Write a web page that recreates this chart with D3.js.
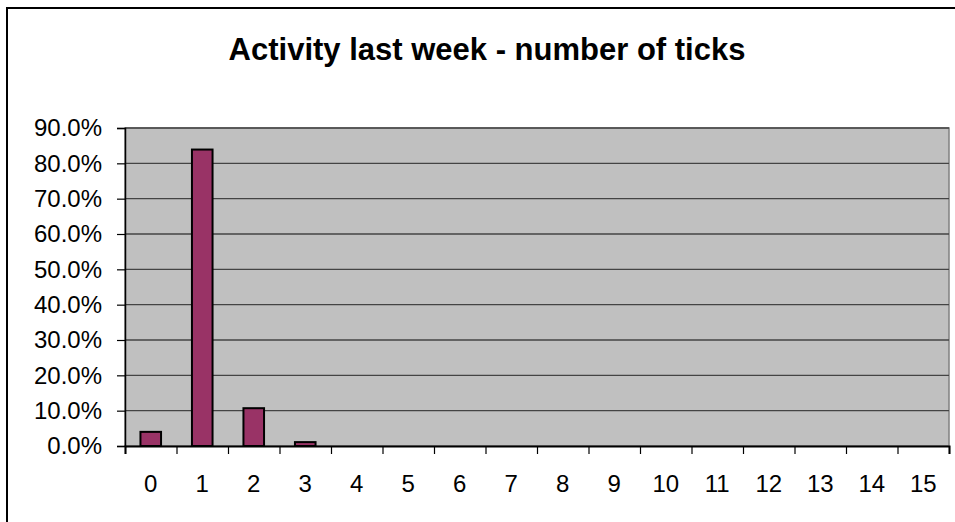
<!DOCTYPE html>
<html>
<head>
<meta charset="utf-8">
<script src="https://cdn.jsdelivr.net/npm/d3@7"></script>
<style>
  html, body { margin: 0; padding: 0; background: #fff; }
  svg { display: block; font-family: "Liberation Sans", Arial, sans-serif; }
</style>
</head>
<body>
<svg id="chart" width="955" height="522"></svg>
<script>
const categories = ["0","1","2","3","4","5","6","7","8","9","10","11","12","13","14","15"];
const values = [0.040, 0.839, 0.107, 0.011, 0, 0, 0, 0, 0, 0, 0, 0, 0, 0, 0, 0];
const yTicks = [0, 0.1, 0.2, 0.3, 0.4, 0.5, 0.6, 0.7, 0.8, 0.9];
const title = "Activity last week - number of ticks";

const svg = d3.select("#chart");
const plot = { left: 125, right: 949, top: 128, bottom: 446 };

// outer frame (extends past right/bottom edge)
svg.append("rect")
  .attr("x", 7).attr("y", 8).attr("width", 960).attr("height", 530)
  .attr("fill", "#fff").attr("stroke", "#000").attr("stroke-width", 2);

svg.append("text")
  .attr("x", 487).attr("y", 60)
  .attr("text-anchor", "middle")
  .attr("font-weight", "bold")
  .attr("font-size", 31)
  .text(title);

const x = d3.scaleBand().domain(categories)
  .range([plot.left, plot.right]).paddingInner(0.6).paddingOuter(0.3);
const xb = d3.scaleLinear().domain([0, categories.length]).range([plot.left, plot.right]);
const y = d3.scaleLinear().domain([0, 0.9]).range([plot.bottom, plot.top]);

// plot background
svg.append("rect")
  .attr("x", plot.left).attr("y", plot.top)
  .attr("width", plot.right - plot.left).attr("height", plot.bottom - plot.top)
  .attr("fill", "#c0c0c0").attr("stroke", "#808080").attr("stroke-width", 1.5);

// gridlines
svg.append("g").selectAll("line").data(yTicks.slice(1)).join("line")
  .attr("x1", plot.left).attr("x2", plot.right)
  .attr("y1", d => y(d)).attr("y2", d => y(d))
  .attr("stroke", "#444").attr("stroke-width", 1.3);

// bars
svg.append("g").selectAll("rect").data(values).join("rect")
  .attr("x", (d, i) => x(categories[i]))
  .attr("width", x.bandwidth())
  .attr("y", d => y(d))
  .attr("height", d => y(0) - y(d))
  .attr("fill", "#993366")
  .attr("stroke", d => d > 0 ? "#000" : "none")
  .attr("stroke-width", 2);

// y axis
const yAxis = svg.append("g").attr("transform", `translate(${plot.left},0)`)
  .call(d3.axisLeft(y).tickValues(yTicks).tickFormat(d3.format(".1%")).tickSize(8).tickPadding(15));
yAxis.attr("font-size", null).attr("font-family", null);
yAxis.select(".domain").attr("stroke", "#000").attr("stroke-width", 1.5);
yAxis.selectAll(".tick line").attr("stroke", "#000").attr("stroke-width", 1.2);
yAxis.selectAll("text").style("font-size", "24px").attr("fill", "#000")
  .style("font-family", "'Liberation Sans', Arial, sans-serif");

// x axis boundary ticks
const xTickAxis = svg.append("g").attr("transform", `translate(0,${plot.bottom})`)
  .call(d3.axisBottom(xb).tickValues(d3.range(categories.length + 1)).tickSize(8).tickFormat(""));
xTickAxis.select(".domain").attr("stroke", "#000").attr("stroke-width", 2);
xTickAxis.selectAll(".tick line").attr("stroke", "#000").attr("stroke-width", 1.2);

// x labels
const xAxis = svg.append("g").attr("transform", `translate(0,${plot.bottom})`)
  .call(d3.axisBottom(x).tickSize(0).tickPadding(29));
xAxis.attr("font-size", null).attr("font-family", null);
xAxis.select(".domain").remove();
xAxis.selectAll("text").style("font-size", "24px").attr("fill", "#000")
  .style("font-family", "'Liberation Sans', Arial, sans-serif");
</script>
</body>
</html>
